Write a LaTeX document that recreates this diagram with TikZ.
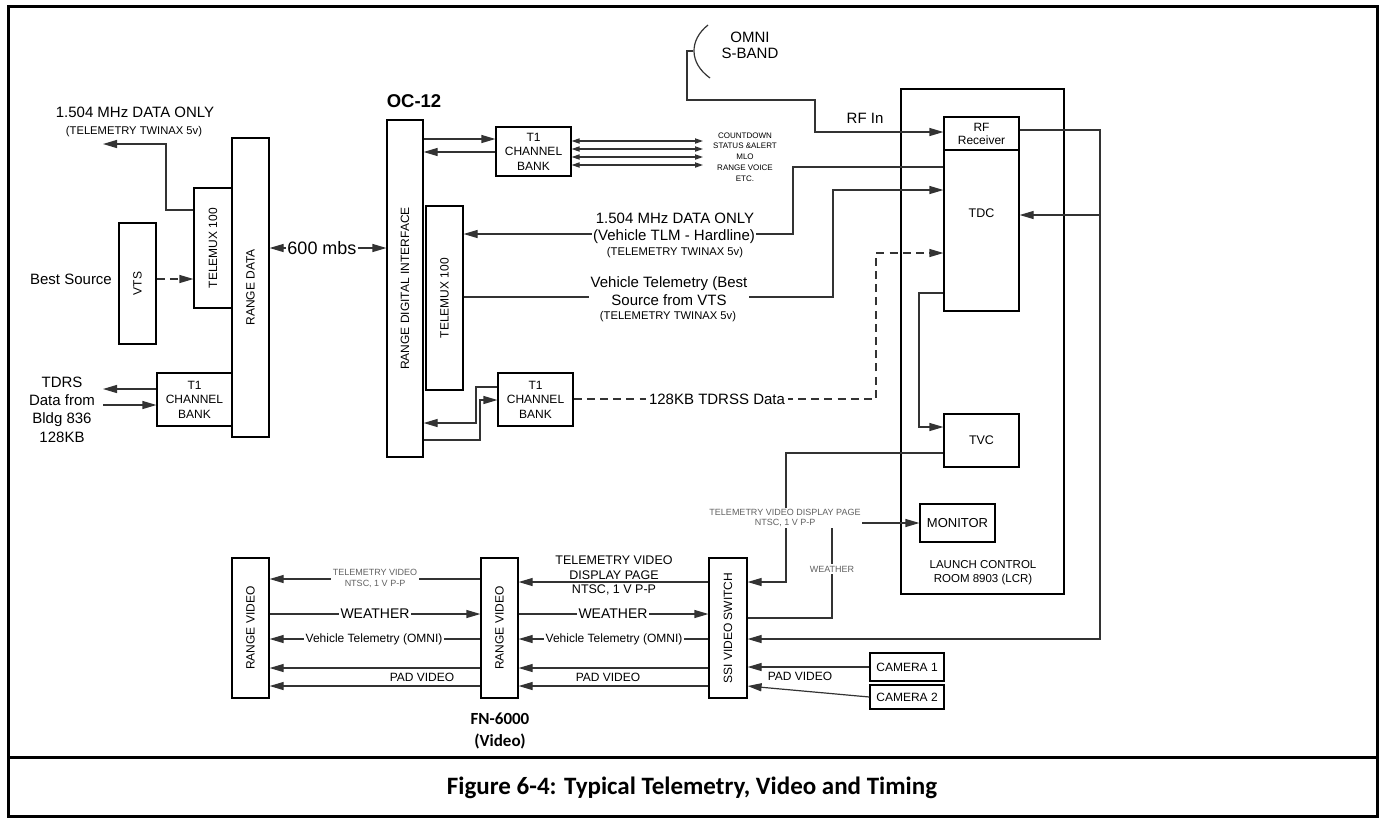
\documentclass[tikz,border=0pt]{standalone}
\usepackage{fontspec}
\setmainfont{Liberation Sans}
\newfontfamily\capfont{Carlito}
\usepackage{graphicx}
\usetikzlibrary{arrows.meta}

% text sizes
\newcommand\fsA{\fontsize{7.5}{9.2}\selectfont}
\newcommand\fsB{\fontsize{6}{7.3}\selectfont}
\newcommand\fsC{\fontsize{5.6}{6.5}\selectfont}
\newcommand\fsS{\fontsize{4.5}{5.2}\selectfont}
\newcommand\fsT{\fontsize{4}{5.4}\selectfont}

\begin{document}
\begin{tikzpicture}[x=0.5pt,y=-0.5pt,
  box/.style={draw=black, line width=0.6pt, inner sep=0pt, align=center, font=\fsB},
  wire/.style={draw=black!80, line width=0.6pt},
  arr/.style={wire, -{Triangle[length=7pt,width=4pt]}},
  darr/.style={wire, {Triangle[length=4pt,width=2.6pt]}-{Triangle[length=4pt,width=2.6pt]}},
  dash line/.style={dash pattern=on 4pt off 2.6pt},
  lbl/.style={inner sep=0.8pt, align=center, font=\fsA},
  wlbl/.style={lbl, fill=white},
  glbl/.style={inner sep=0.8pt, align=center, text=black!62, fill=white},
]
\useasboundingbox (0,0) rectangle (1384,821);

% outer frame and caption divider
\draw[line width=1.5pt] (8,6) rectangle (1377,816);
\draw[line width=1.5pt] (8,757) -- (1377,757);

% ---- boxes ----
\node[box, minimum width=18.5pt, minimum height=60.5pt] (vts) at (137.5,283.5) {\rotatebox{90}{VTS}};
\node[box, minimum width=19pt, minimum height=60pt] (tmxL) at (213,248) {\rotatebox{90}{TELEMUX 100}};
\node[box, minimum width=18.5pt, minimum height=149.5pt] (rdata) at (250.5,287.5) {\rotatebox{90}{RANGE DATA}};
\node[box, minimum width=37.5pt, minimum height=26.5pt] (t1L) at (194.5,399.5) {T1\\CHANNEL\\BANK};
\node[box, minimum width=18pt, minimum height=168.5pt] (rdi) at (405,288.5) {\rotatebox{90}{RANGE DIGITAL INTERFACE}};
\node[box, minimum width=37.5pt, minimum height=24.5pt] (t1A) at (533.5,151.5) {T1\\CHANNEL\\BANK};
\node[box, minimum width=18.5pt, minimum height=92pt] (tmxC) at (444.5,298) {\rotatebox{90}{TELEMUX 100}};
\node[box, minimum width=37.5pt, minimum height=26.5pt] (t1B) at (535.5,399.5) {T1\\CHANNEL\\BANK};
\node[box, minimum width=81.5pt, minimum height=252.5pt] (lcr) at (982.5,341.5) {};
\node[box, minimum width=37.5pt, minimum height=16.5pt, font=\fontsize{6}{6.5}\selectfont] (rfr) at (981.5,133.5) {RF\\Receiver};
\node[box, minimum width=37.5pt, minimum height=80.5pt] (tdc) at (981.5,230.5) {};
\node[font=\fontsize{6.25}{7}\selectfont] at (981.5,213) {TDC};
\node[box, minimum width=37.5pt, minimum height=26.5pt, font=\fontsize{6.25}{7}\selectfont] (tvc) at (981.5,440.5) {TVC};
\node[box, minimum width=37.5pt, minimum height=19pt, font=\fontsize{6.5}{7}\selectfont] (mon) at (957.5,523) {MONITOR};
\node[box, minimum width=19pt, minimum height=70pt] (ssi) at (728,628) {\rotatebox{90}{SSI VIDEO SWITCH}};
\node[box, minimum width=18.5pt, minimum height=70pt] (rvM) at (499.5,628) {\rotatebox{90}{RANGE VIDEO}};
\node[box, minimum width=18.5pt, minimum height=70pt] (rvL) at (250.5,628) {\rotatebox{90}{RANGE VIDEO}};
\node[box, minimum width=37pt, minimum height=14pt] (cam1) at (907,667) {CAMERA 1};
\node[box, minimum width=37pt, minimum height=12pt] (cam2) at (907,697) {CAMERA 2};

% free ends
\coordinate (o1) at (103,144);
\coordinate (tdrsout) at (103,389);
\coordinate (tdrsin) at (103,405);
\coordinate (svc) at (703,153);
\coordinate (ant) at (693,51);
\coordinate (bus) at (1100,215);

% ---- connectors ----
\draw[arr] (tmxL.west |- 0,210) -- (166,210) |- (o1);
\draw[arr, dash line] (vts.east |- 0,279) -- (tmxL.west |- 0,279);
\draw[wire, {Triangle[length=7pt,width=4pt]}-{Triangle[length=7pt,width=4pt]}] (rdata.east |- 0,248) -- (rdi.west |- 0,248);
\draw[arr] (t1L.west |- 0,389) -- (tdrsout);
\draw[arr] (tdrsin) -- (t1L.west |- 0,405);

\draw[arr] (rdi.east |- 0,139) -- (t1A.west |- 0,139);
\draw[arr] (t1A.west |- 0,152) -- (rdi.east |- 0,152);
\foreach \yy in {141,149,157,165}
  \draw[darr] (t1A.east |- 0,\yy) -- (svc |- 0,\yy);

\draw[arr] (tdc.west |- 0,167) -- (793,167) -- (793,234) -- (tmxC.east |- 0,234);
\draw[arr] (tmxC.east |- 0,297) -- (833,297) -- (833,190) -- (tdc.west |- 0,190);
\draw[arr, dash line] (t1B.east |- 0,399) -- (876,399) -- (876,253) -- (tdc.west |- 0,253);

\draw[arr] (t1B.west |- 0,387) -- (476,387) -- (476,423) -- (rdi.east |- 0,423);
\draw[arr] (rdi.east |- 0,440) -- (480,440) -- (480,400) -- (t1B.west |- 0,400);

% omni antenna and RF feed
\draw[wire] (708,25) .. controls (689,40) and (689,63) .. (710,78);
\draw[arr] (ant) -- (687,51) -- (687,100) -- (815,100) -- (815,132) -- (rfr.west |- 0,132);

\draw[arr] (rfr.east |- 0,130) -- (1100,130) -- (1100,639) -- (ssi.east |- 0,639);
\draw[arr] (bus) -- (tdc.east |- bus);
\draw[arr] (tdc.west |- 0,293) -- (919,293) -- (919,427) -- (tvc.west |- 0,427);
\draw[arr] (tvc.west |- 0,453) -- (786,453) -- (786,582) -- (ssi.east |- 0,582);
\draw[arr] (ssi.east |- 0,618) -- (832,618) -- (832,523) -- (mon.west);
\draw[arr] (cam1.west) -- (ssi.east |- 0,667);
\draw[arr] (cam2.west) -- (ssi.east |- 0,686);

\draw[arr] (ssi.west |- 0,582) -- (rvM.east |- 0,582);
\draw[arr] (rvM.east |- 0,614) -- (ssi.west |- 0,614);
\draw[arr] (ssi.west |- 0,639) -- (rvM.east |- 0,639);
\draw[arr] (ssi.west |- 0,668) -- (rvM.east |- 0,668);
\draw[arr] (ssi.west |- 0,686) -- (rvM.east |- 0,686);

\draw[arr] (rvM.west |- 0,579) -- (rvL.east |- 0,579);
\draw[arr] (rvL.east |- 0,614) -- (rvM.west |- 0,614);
\draw[arr] (rvM.west |- 0,639) -- (rvL.east |- 0,639);
\draw[arr] (rvM.west |- 0,668) -- (rvL.east |- 0,668);
\draw[arr] (rvM.west |- 0,686) -- (rvL.east |- 0,686);

% ---- labels ----
\node[lbl] at (135,112) {1.504 MHz DATA ONLY};
\node[lbl, font=\fsC] at (134,132) {(TELEMETRY TWINAX 5v)};
\node[lbl] at (71,279) {Best Source};
\node[wlbl, font=\fontsize{9}{10}\selectfont] at (322,248) {600 mbs};
\node[lbl, font=\fontsize{9.25}{10}\selectfont\bfseries] at (414,101) {OC-12};
\node[lbl, font=\fontsize{7.5}{9.15}\selectfont] at (62,409.5) {TDRS\\Data from\\Bldg 836\\128KB};
\node[lbl, font=\fsT] at (745,157) {COUNTDOWN\\STATUS \&ALERT\\MLO\\RANGE VOICE\\ETC.};

\node[lbl] at (675,218) {1.504 MHz DATA ONLY};
\node[wlbl] at (674,237) {(Vehicle TLM - Hardline)};
\node[lbl, font=\fsC] at (675,253) {(TELEMETRY TWINAX 5v)};
\node[wlbl, font=\fontsize{7.5}{9}\selectfont] at (669,291) {Vehicle Telemetry (Best\\Source from VTS};
\node[lbl, font=\fsC] at (668,317) {(TELEMETRY TWINAX 5v)};
\node[wlbl, inner sep=1.5pt] at (717,399) {128KB TDRSS Data};

\node[lbl, font=\fontsize{7.5}{8}\selectfont] at (750,45) {OMNI\\S-BAND};
\node[lbl] at (865,118) {RF In};
\node[lbl, font=\fontsize{5.75}{7}\selectfont] at (983,573) {LAUNCH CONTROL\\ROOM 8903 (LCR)};

\node[glbl, font=\fontsize{4.5}{5}\selectfont] at (785,518) {TELEMETRY VIDEO DISPLAY PAGE\\NTSC, 1 V P-P};
\node[glbl, font=\fsS] at (832,569) {WEATHER};
\node[lbl, font=\fsB] at (800,676) {PAD VIDEO};

\node[lbl, font=\fontsize{6.25}{7.25}\selectfont] at (614,575.5) {TELEMETRY VIDEO\\DISPLAY PAGE\\NTSC, 1 V P-P};
\node[wlbl, font=\fontsize{7}{8}\selectfont] at (613,614) {WEATHER};
\node[wlbl, font=\fsB] at (614,639) {Vehicle Telemetry (OMNI)};
\node[lbl, font=\fsB] at (608,677) {PAD VIDEO};

\node[glbl, font=\fontsize{4.5}{5.5}\selectfont] at (375,578.5) {TELEMETRY VIDEO\\NTSC, 1 V P-P};
\node[wlbl, font=\fontsize{7}{8}\selectfont] at (375,614) {WEATHER};
\node[wlbl, font=\fsB] at (374,639) {Vehicle Telemetry (OMNI)};
\node[lbl, font=\fsB] at (422,677) {PAD VIDEO};

\node[lbl, font=\capfont\bfseries\fontsize{8.5}{11}\selectfont] at (500,731) {FN-6000\\(Video)};
\node[lbl, font=\capfont\bfseries\fontsize{12.5}{14}\selectfont] at (692,788) {Figure 6-4: Typical Telemetry, Video and Timing};
\end{tikzpicture}
\end{document}
